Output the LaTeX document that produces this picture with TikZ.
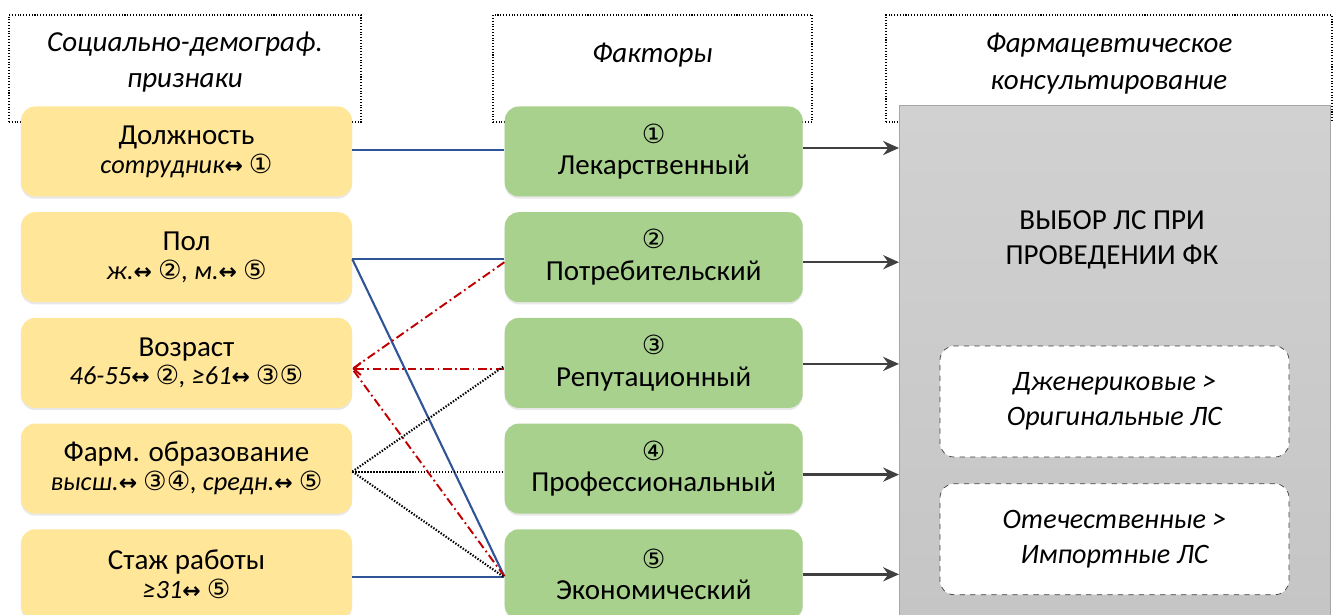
\documentclass[tikz,border=0pt]{standalone}
\usepackage{fontspec}
\setmainfont{Carlito}
\newfontfamily\symfont{DejaVu Sans}
\usetikzlibrary{positioning,fit,calc,arrows.meta,shadows}
\definecolor{featyellow}{HTML}{FFE699}
\definecolor{factgreen}{HTML}{A9D18E}
\definecolor{linkblue}{HTML}{2F5597}
\definecolor{linkred}{HTML}{C00000}
\newcommand\sym[1]{{\symfont\fontsize{15}{15}\selectfont #1}}
\newcommand\lr{{\symfont\bfseries\fontsize{12.5}{12}\selectfont ↔}}
\tikzset{softshadow/.style={drop shadow={opacity=0.18, shadow xshift=0pt, shadow yshift=-1.2pt}}}
\tikzset{hdr/.style={draw, densely dotted, line width=0.6pt, minimum height=2.14cm}}
\tikzset{hdrtxt/.style={align=center, font=\fontsize{16.5}{21}\selectfont\itshape}}
\tikzset{feat/.style={rounded corners=8pt, fill=featyellow, softshadow, minimum width=6.62cm, minimum height=1.8cm, align=center, font=\fontsize{16.5}{18}\selectfont}}
\tikzset{fact/.style={rounded corners=8pt, fill=factgreen, softshadow, minimum width=5.96cm, minimum height=1.8cm, align=center, font=\fontsize{16.5}{18}\selectfont}}
\tikzset{pref/.style={draw=black!75, dashed, fill=white, rounded corners=8pt, minimum width=6.98cm, minimum height=2.22cm, align=center, font=\fontsize{16}{20}\selectfont\itshape}}
\tikzset{blueln/.style={draw=linkblue, line width=1.2pt}}
\tikzset{redln/.style={draw=linkred, line width=1.1pt, dash pattern=on 5pt off 2pt on 1pt off 2pt}}
\tikzset{dotln/.style={draw=black, line width=1.2pt, dash pattern=on 0.8pt off 0.9pt}}
\tikzset{outarr/.style={draw=black!75, line width=1.4pt, -{Stealth[length=9pt, width=8pt]}}}
\newcommand\sub[1]{\\[-0.2ex]{\fontsize{15}{18}\selectfont\itshape #1}}

\begin{document}
\begin{tikzpicture}
	\useasboundingbox (0,0) rectangle (26.66,-12.3);

	% column headers
	\node[hdr, minimum width=7.04cm] (hL) at (3.7,-1.37) {};
	\node[hdr, minimum width=6.38cm] (hM) at (13.05,-1.37) {};
	\node[hdr, minimum width=8.92cm] (hR) at (22.18,-1.37) {};
	\node[hdrtxt] at ([yshift=0.13cm]hL.center) {Социально-демограф.\\признаки};
	\node[hdrtxt] at ([yshift=0.27cm]hM.center) {Факторы};
	\node[hdrtxt] at ([yshift=0.1cm]hR.center) {Фармацевтическое\\консультирование};

	% socio-demographic features
	\node[feat] (f1) at (3.73,-3.03) {Должность\sub{сотрудник\lr\ \sym{①}}};
	\node[feat, below=0.3 of f1] (f2) {Пол\sub{ж.\lr\ \sym{②}, м.\lr\ \sym{⑤}}};
	\node[feat, below=0.3 of f2] (f3) {Возраст\sub{46-55\lr\ \sym{②}, ≥61\lr\ \sym{③⑤}}};
	\node[feat, below=0.3 of f3] (f4) {Фарм. образование\sub{высш.\lr\ \sym{③④}, средн.\lr\ \sym{⑤}}};
	\node[feat, below=0.3 of f4] (f5) {Стаж работы\sub{≥31\lr\ \sym{⑤}}};

	% factors
	\node[fact, right=3.04 of f1] (g1) {\sym{①}\\Лекарственный};
	\node[fact, right=3.04 of f2] (g2) {\sym{②}\\Потребительский};
	\node[fact, right=3.04 of f3] (g3) {\sym{③}\\Репутационный};
	\node[fact, right=3.04 of f4] (g4) {\sym{④}\\Профессиональный};
	\node[fact, right=3.04 of f5] (g5) {\sym{⑤}\\Экономический};

	% result
	\node[draw=black!35, top color=black!18, bottom color=black!23, minimum width=8.62cm,
		minimum height=10.8cm, anchor=north west] (res) at (17.98,-2.1) {};
	\node[align=center, font=\fontsize{16.5}{20}\selectfont] (choice) at (22.24,-4.8)
		{ВЫБОР ЛС ПРИ\\ПРОВЕДЕНИИ ФК};
	\node[pref] (gen) at (22.29,-8.03) {Дженериковые >\\Оригинальные ЛС};
	\node[pref, below=0.52 of gen] (dom) {Отечественные >\\Импортные ЛС};

	% links
	\draw[blueln] ([yshift=0.03cm]f1.east) -- ([yshift=0.03cm]g1.west);
	\draw[blueln] ([yshift=-0.04cm]f2.east) -- ([yshift=-0.04cm]g2.west);
	\draw[blueln] ([yshift=-0.04cm]f2.east) -- ([yshift=-0.04cm]g5.west);
	\draw[blueln] ([yshift=-0.06cm]f5.east) -- ([yshift=-0.06cm]g5.west);
	\draw[redln] ([yshift=-0.1cm]g2.west) -- ([yshift=-0.12cm]f3.east);
	\draw[redln, -{Straight Barb[length=4pt, width=7pt]}] ([yshift=-0.12cm]g3.west) -- ([yshift=-0.12cm]f3.east);
	\draw[redln] ([yshift=-0.04cm]g5.west) -- ([yshift=-0.12cm]f3.east);
	\foreach \g in {g3,g4,g5}
		\draw[dotln] ([yshift=-0.06cm]f4.east) -- ([yshift=-0.06cm]\g.west);

	% arrows into the result
	\foreach \g/\dy in {g1/0.07, g2/-0.1, g3/-0.02, g4/-0.12, g5/0}
		\draw[outarr] ([yshift=\dy cm]\g.east) -- ([yshift=\dy cm]\g.east -| res.west);
\end{tikzpicture}
\end{document}
